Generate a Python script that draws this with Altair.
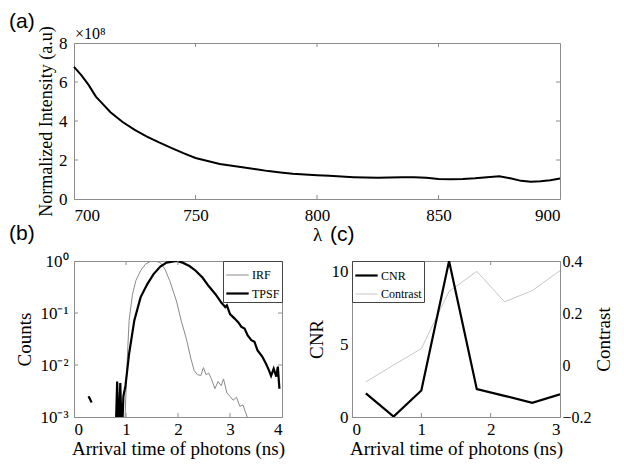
import altair as alt
import pandas as pd

SERIF = "Liberation Serif"
SANS = "Liberation Sans"

# ---- Panel (a): spectrum ----
wavelength = [700, 703, 706, 709, 712, 715, 720, 725, 730, 735, 740, 745, 750, 755, 760,
              765, 770, 775, 780, 785, 790, 795, 800, 805, 810, 815, 820, 825, 830, 835,
              840, 845, 850, 855, 860, 865, 870, 875, 880, 884, 888, 892, 896, 900]
intensity_e8 = [6.78, 6.35, 5.85, 5.25, 4.85, 4.45, 3.95, 3.55, 3.20, 2.90, 2.62, 2.35, 2.10,
                1.95, 1.80, 1.70, 1.61, 1.52, 1.43, 1.36, 1.30, 1.26, 1.22, 1.19, 1.15, 1.12,
                1.10, 1.09, 1.10, 1.11, 1.12, 1.09, 1.03, 1.01, 1.02, 1.06, 1.12, 1.17, 1.05,
                0.93, 0.88, 0.91, 0.96, 1.05]
a_xticks = [700, 750, 800, 850, 900]
a_yticks = [0, 2, 4, 6, 8]

# ---- Panel (b): IRF and TPSF ----
irf_t = [0.97, 1.00, 1.03, 1.06, 1.125, 1.19, 1.28, 1.375, 1.47, 1.56, 1.66, 1.75, 1.84,
         1.97, 2.06, 2.16, 2.25, 2.31, 2.375, 2.44, 2.49, 2.54, 2.59, 2.64, 2.71, 2.77,
         2.83, 2.875, 2.94, 3.00, 3.06, 3.125, 3.19, 3.25, 3.29, 3.34]
irf_v = [0.0005, 0.003, 0.017, 0.072, 0.23, 0.42, 0.65, 0.87, 0.98, 1.0, 0.93, 0.69, 0.42,
         0.17, 0.072, 0.032, 0.013, 0.0079, 0.0065, 0.0063, 0.0089, 0.0065, 0.0070, 0.0055,
         0.0035, 0.0048, 0.0040, 0.0054, 0.0029, 0.0025, 0.0021, 0.0024, 0.0016, 0.0017,
         0.0013, 0.00095]
tpsf_t = [0.28, 0.34,
          0.80, 0.83, 0.86, 0.89, 0.92, 0.95, 0.99, 1.06, 1.16, 1.28, 1.41, 1.53, 1.66, 1.78,
          1.97, 2.09, 2.16, 2.22, 2.34, 2.47, 2.59, 2.72, 2.84, 2.91, 2.94, 3.00, 3.09, 3.16,
          3.22, 3.28, 3.34, 3.41, 3.47, 3.53, 3.62, 3.69, 3.75, 3.79, 3.84, 3.89, 3.92, 3.95]
tpsf_v = [0.0025, 0.0019,
          0.0004, 0.0048, 0.0004, 0.0045, 0.0004, 0.0025, 0.004, 0.0166, 0.072, 0.20, 0.36,
          0.56, 0.78, 0.93, 1.0, 0.93, 0.86, 0.80, 0.65, 0.48, 0.33, 0.23, 0.155, 0.13, 0.14,
          0.095, 0.078, 0.066, 0.054, 0.050, 0.037, 0.030, 0.028, 0.019, 0.0145, 0.0107,
          0.0079, 0.0062, 0.0085, 0.0060, 0.0093, 0.0035]
tpsf_seg = [1, 1] + [2] * (len(tpsf_t) - 2)
b_xticks = [0, 1, 2, 3, 4]
b_yticks = [0.001, 0.01, 0.1, 1]

# ---- Panel (c): CNR and contrast ----
gate_t = [0.2, 0.6, 1.0, 1.4, 1.8, 2.2, 2.6, 3.0]
cnr = [1.62, 0.03, 1.82, 10.7, 1.91, 1.45, 0.97, 1.55]
contrast = [-0.065, 0.0, 0.063, 0.283, 0.36, 0.243, 0.286, 0.363]
c_xticks = [0, 1, 2, 3]

BOX = "#8c8c8c"
W_A, W_B, GAP_X = 486, 208, 70
H = 156
TL = 4


def x_tick_rules(vals, scale, axis, h):
    df = pd.DataFrame({"tv": vals})
    base = alt.Chart(df).mark_rule(color=BOX, strokeWidth=1)
    xe = alt.X("tv:Q", scale=scale, axis=axis)
    return [base.encode(x=xe, y=alt.value(h), y2=alt.value(h - TL)),
            base.encode(x=xe, y=alt.value(0), y2=alt.value(TL))]


def y_tick_rules(vals, scale, axis, w):
    df = pd.DataFrame({"tv": vals})
    base = alt.Chart(df).mark_rule(color=BOX, strokeWidth=1)
    ye = alt.Y("tv:Q", scale=scale, axis=axis)
    return [base.encode(y=ye, x=alt.value(0), x2=alt.value(TL)),
            base.encode(y=ye, x=alt.value(w), x2=alt.value(w - TL))]


# Panel (a)
ax_a_x = alt.Axis(values=a_xticks, title="λ", labelOverlap=False,
                  labelPadding=8, titlePadding=2)
ax_a_y = alt.Axis(values=a_yticks, title="Normalized Intensity (a.u)",
                  labelOverlap=False, labelPadding=7, titlePadding=3, titleFontSize=18)
sc_a_x = alt.Scale(domain=[700, 900], nice=False, zero=False)
sc_a_y = alt.Scale(domain=[0, 8], nice=False)
df_a = pd.DataFrame({"wl": wavelength, "I": intensity_e8})
line_a = alt.Chart(df_a).mark_line(color="black", strokeWidth=2).encode(
    x=alt.X("wl:Q", scale=sc_a_x, axis=ax_a_x),
    y=alt.Y("I:Q", scale=sc_a_y, axis=ax_a_y),
)
exp_a = alt.Chart(pd.DataFrame({"wl": [700], "I": [8], "txt": ["×10⁸"]})).mark_text(
    align="left", baseline="bottom", dx=1, dy=-1, font=SERIF, fontSize=16, color="black"
).encode(
    x=alt.X("wl:Q", scale=sc_a_x, axis=ax_a_x),
    y=alt.Y("I:Q", scale=sc_a_y, axis=ax_a_y),
    text="txt:N",
)
panel_a = alt.layer(
    line_a, exp_a,
    *x_tick_rules(a_xticks[1:-1], sc_a_x, ax_a_x, H),
    *y_tick_rules(a_yticks[1:-1], sc_a_y, ax_a_y, W_A),
).properties(
    width=W_A, height=H,
    title=alt.TitleParams("(a)", anchor="start", frame="group", dx=-65, offset=-6,
                          font=SANS, fontSize=21, fontWeight="normal"),
)

# Panel (b)
df_irf = pd.DataFrame({"t": irf_t, "v": irf_v, "series": "IRF", "seg": 0})
df_tpsf = pd.DataFrame({"t": tpsf_t, "v": tpsf_v, "series": "TPSF", "seg": tpsf_seg})
df_b = pd.concat([df_irf, df_tpsf], ignore_index=True)
leg_b = alt.Legend(title=None, orient="top-right", offset=0)
sc_b_x = alt.Scale(domain=[0, 4], nice=False)
sc_b_y = alt.Scale(type="log", domain=[0.001, 1], nice=False)
ax_b_x = alt.Axis(values=b_xticks, title="Arrival time of photons (ns)",
                  labelPadding=4, titlePadding=2)
ax_b_y = alt.Axis(values=b_yticks, title="Counts", labelOverlap=False,
                  labelExpr="datum.value >= 0.5 ? '10⁰' : datum.value >= 0.05 ? '10⁻¹' : datum.value >= 0.005 ? '10⁻²' : '10⁻³'",
                  labelPadding=6, titlePadding=5)
lines_b = alt.Chart(df_b).mark_line(clip=True).encode(
    x=alt.X("t:Q", scale=sc_b_x, axis=ax_b_x),
    y=alt.Y("v:Q", scale=sc_b_y, axis=ax_b_y),
    color=alt.Color("series:N", scale=alt.Scale(domain=["IRF", "TPSF"], range=["#8a8a8a", "black"]),
                    legend=leg_b),
    strokeWidth=alt.StrokeWidth("series:N", scale=alt.Scale(domain=["IRF", "TPSF"], range=[1, 2.2]),
                                legend=leg_b),
    detail="seg:N",
)
panel_b = alt.layer(
    lines_b,
    *x_tick_rules(b_xticks[1:-1], sc_b_x, ax_b_x, H),
    *y_tick_rules(b_yticks[1:-1], sc_b_y, ax_b_y, W_B),
).properties(
    width=W_B, height=H,
    title=alt.TitleParams("(b)", anchor="start", frame="group", dx=-65, offset=8,
                          font=SANS, fontSize=21, fontWeight="normal"),
)

# Panel (c)
df_cnr = pd.DataFrame({"t": gate_t, "v": cnr, "series": "CNR"})
df_con = pd.DataFrame({"t": gate_t, "v": contrast, "series": "Contrast"})
col_scale = alt.Scale(domain=["CNR", "Contrast"], range=["black", "#c8c8c8"])
sw_scale = alt.Scale(domain=["CNR", "Contrast"], range=[2.2, 1])
sc_c_x = alt.Scale(domain=[0, 3], nice=False)
ax_c_x = alt.Axis(values=c_xticks, title="Arrival time of photons (ns)",
                  labelPadding=4, titlePadding=2)
xc = alt.X("t:Q", scale=sc_c_x, axis=ax_c_x)
leg_c = alt.Legend(title=None, orient="top-left", offset=0)
con_line = alt.Chart(df_con).mark_line(clip=True).encode(
    x=xc,
    y=alt.Y("v:Q", scale=alt.Scale(domain=[-0.2, 0.4], nice=False),
            axis=alt.Axis(values=[-0.2, 0, 0.2, 0.4], format=".1~f", orient="right",
                          labelOverlap=False, labelFontSize=16,
                          title="Contrast", titleAngle=270, titleBaseline="top",
                          labelPadding=2, titlePadding=3)),
    color=alt.Color("series:N", scale=col_scale, legend=leg_c),
    strokeWidth=alt.StrokeWidth("series:N", scale=sw_scale, legend=leg_c),
)
cnr_line = alt.Chart(df_cnr).mark_line(clip=True).encode(
    x=xc,
    y=alt.Y("v:Q", scale=alt.Scale(domain=[0, 10.7], nice=False),
            axis=alt.Axis(values=[0, 5, 10], title="CNR", labelOverlap=False,
                          labelPadding=4, titlePadding=5)),
    color=alt.Color("series:N", scale=col_scale, legend=leg_c),
    strokeWidth=alt.StrokeWidth("series:N", scale=sw_scale, legend=leg_c),
)
panel_c = alt.layer(
    con_line, cnr_line,
    *x_tick_rules(c_xticks[1:-1], sc_c_x, ax_c_x, H),
).resolve_scale(y="independent").properties(
    width=W_B, height=H,
    title=alt.TitleParams("(c)", anchor="start", frame="group", dx=-22, offset=8,
                          font=SANS, fontSize=21, fontWeight="normal"),
)

bottom = alt.hconcat(panel_b, panel_c, spacing=GAP_X, bounds="flush").resolve_scale(
    color="independent", strokeWidth="independent"
)
chart = alt.vconcat(panel_a, bottom, spacing=62, bounds="flush").resolve_scale(
    color="independent", strokeWidth="independent"
).properties(
    padding={"left": 0, "top": 2, "right": 2, "bottom": 0}
).configure_view(
    stroke=BOX, strokeWidth=1
).configure_axis(
    domainColor=BOX, domainWidth=1, ticks=False, grid=False, labelOverlap=False,
    labelFont=SERIF, labelFontSize=17, labelColor="black",
    titleFont=SERIF, titleFontSize=19, titleFontWeight="normal", titleColor="black",
).configure_legend(
    labelFont=SERIF, labelFontSize=12, labelColor="black", symbolType="stroke",
    symbolSize=500, fillColor="white", strokeColor="#444", padding=2, rowPadding=0,
    labelOffset=2
)

chart.save("out.html", embed_options={"renderer": "svg", "actions": False})
